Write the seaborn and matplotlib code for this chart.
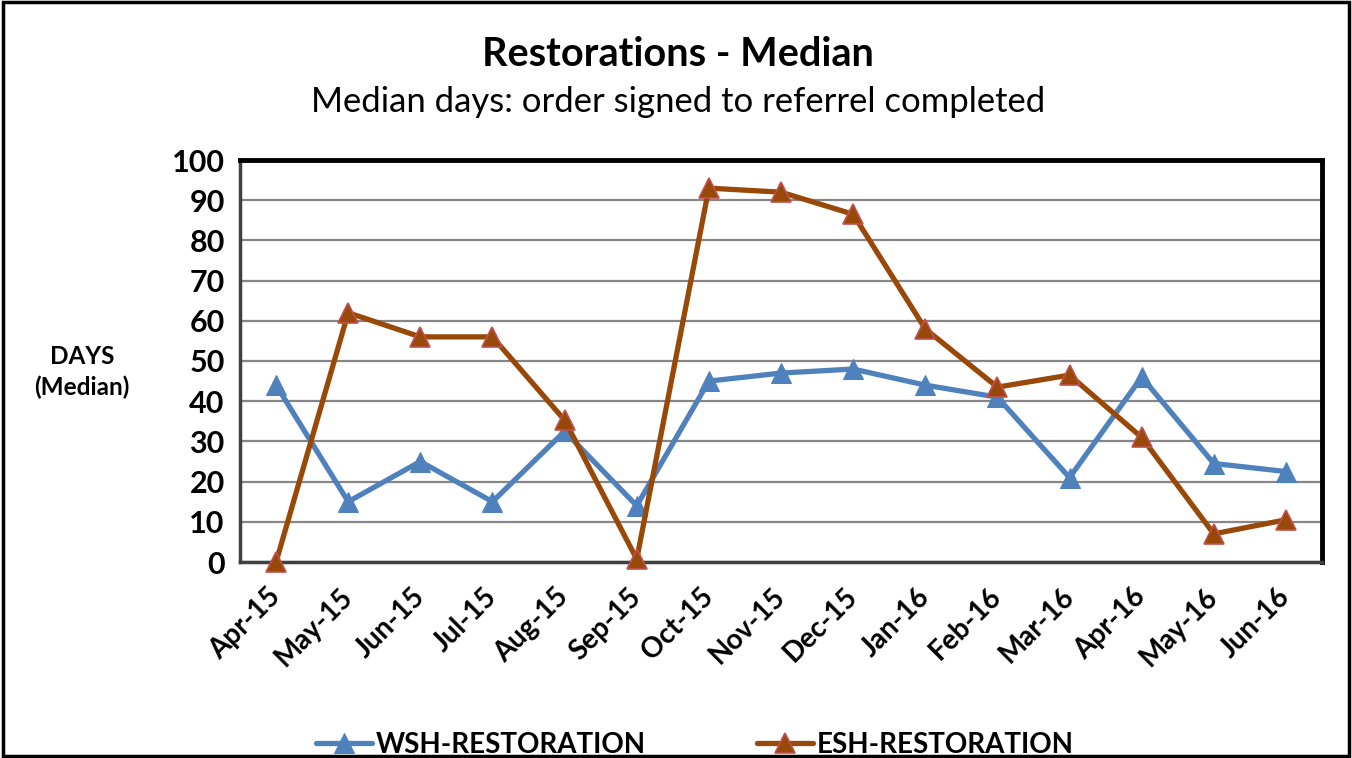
import numpy as np
import pandas as pd
import seaborn as sns
import matplotlib.pyplot as plt
from matplotlib.patches import Rectangle

months = ["Apr-15", "May-15", "Jun-15", "Jul-15", "Aug-15", "Sep-15", "Oct-15",
          "Nov-15", "Dec-15", "Jan-16", "Feb-16", "Mar-16", "Apr-16", "May-16", "Jun-16"]
wsh = [44, 15, 25, 15, 32.5, 14, 45, 47, 48, 44, 41, 21, 46, 24.5, 22.5]
esh = [0, 62, 56, 56, 35.3, 0.7, 93, 92, 86.5, 58, 43.5, 46.5, 31, 7, 10.5]

df = pd.DataFrame({"idx": np.arange(len(months)), "month": months,
                   "WSH-RESTORATION": wsh, "ESH-RESTORATION": esh})

sns.set_style("white")
plt.rcParams["font.family"] = ["Lato", "DejaVu Sans"]
plt.rcParams["text.color"] = "black"
plt.rcParams["xtick.labelcolor"] = "black"
plt.rcParams["ytick.labelcolor"] = "black"

fig = plt.figure(figsize=(13.52, 7.58), dpi=100)
ax = fig.add_axes([240/1352, 1-562/758, (1322-240)/1352, (562-160)/758])

sns.lineplot(data=df, x="idx", y="WSH-RESTORATION", ax=ax, color="#4F81BD",
             linewidth=3.8, marker="^", markersize=14, markerfacecolor="#4F81BD",
             markeredgecolor="#4F81BD", label="WSH-RESTORATION", zorder=3, clip_on=False)
sns.lineplot(data=df, x="idx", y="ESH-RESTORATION", ax=ax, color="#984807",
             linewidth=3.8, marker="^", markersize=14, markerfacecolor="#984807",
             markeredgecolor="#C0504D", markeredgewidth=1.2, label="ESH-RESTORATION",
             zorder=4, clip_on=False)

ax.set_xlim(-0.5, len(months) - 0.5)
ax.set_ylim(0, 100)
ax.set_yticks(np.arange(0, 101, 10))
ax.yaxis.grid(True, color="#868686", linewidth=1.6)
ax.set_axisbelow(True)

ax.set_xticks(np.arange(len(months)))
ax.set_xticklabels(months, rotation=45, ha="right", va="center", rotation_mode="anchor",
                   fontsize=20, fontweight="bold")
ax.set_xticks(np.arange(-0.5, len(months)), minor=True)
ax.tick_params(axis="x", which="major", length=0, pad=22)
ax.tick_params(axis="x", which="minor", length=7, width=1.2, color="#868686", direction="out")
ax.tick_params(axis="y", length=7, width=1.2, color="#868686", direction="out", pad=4)
for lab in ax.get_yticklabels():
    lab.set_fontsize(22)
    lab.set_fontweight("bold")

ax.set_xlabel("")
ax.set_ylabel("")
for side in ["top", "right"]:
    ax.spines[side].set_color("black")
    ax.spines[side].set_linewidth(3.5)
for side in ["left", "bottom"]:
    ax.spines[side].set_color("#404040")
    ax.spines[side].set_linewidth(2.5)

fig.text(82/1352, 1-372/758, "DAYS\n(Median)", ha="center", va="center",
         fontsize=17.5, fontweight="bold", linespacing=1.35)
fig.text(678/1352, 1-55/758, "Restorations - Median", ha="center", va="center",
         fontsize=28.5, fontweight="bold")
fig.text(678/1352, 1-102/758, "Median days: order signed to referrel completed",
         ha="center", va="center", fontsize=24.9)

leg = ax.legend(loc="center", bbox_to_anchor=(695/1352, 1-745/758), bbox_transform=fig.transFigure,
                ncol=2, frameon=False, prop={"size": 20, "weight": "bold"},
                columnspacing=4.0, handlelength=2.0, handletextpad=0.15)

fig.patches.append(Rectangle((0.002, 0.002), 0.996, 0.996, transform=fig.transFigure,
                             fill=False, edgecolor="black", linewidth=2.5))

fig.savefig("out.png", dpi=100)
